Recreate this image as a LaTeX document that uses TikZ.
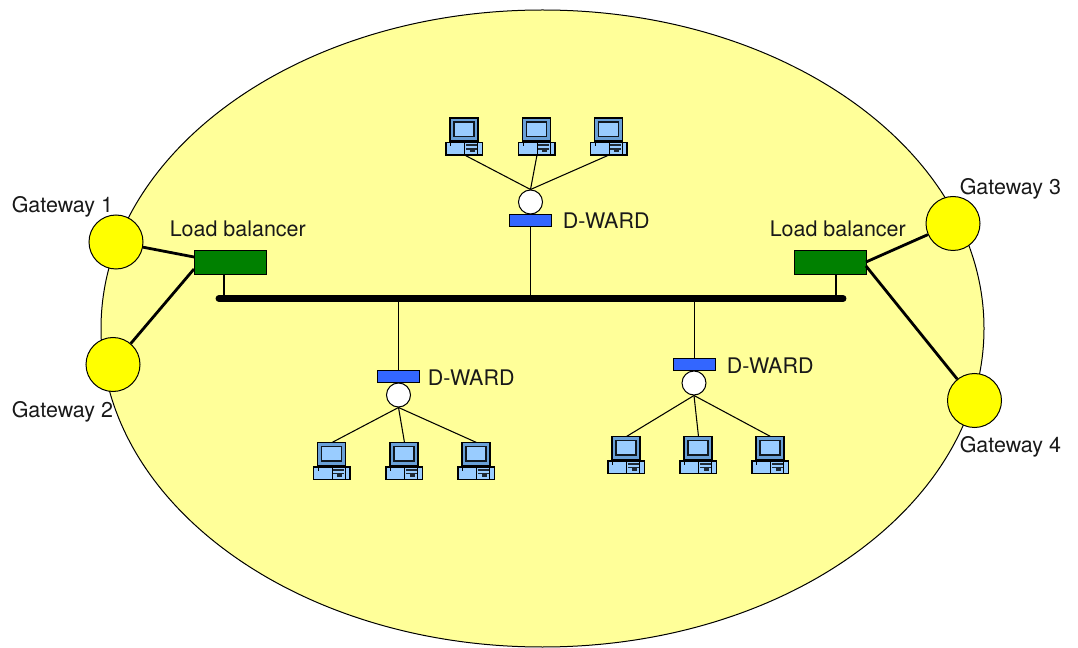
\documentclass[tikz,border=0pt]{standalone}
\usepackage{fontspec}
\setmainfont{TeX Gyre Heros}
\definecolor{bg}{RGB}{255,255,153}
\definecolor{gw}{RGB}{255,255,0}
\definecolor{lb}{RGB}{0,128,0}
\definecolor{dw}{RGB}{51,102,255}
\definecolor{pc}{RGB}{153,204,255}
\definecolor{bevel}{RGB}{105,160,215}
\tikzset{
 x=0.75pt,y=-0.75pt,
 gateway/.style={circle,draw,fill=gw,line width=0.75pt,minimum size=40.5pt,inner sep=0pt},
 balancer/.style={rectangle,draw,fill=lb,line width=0.6pt,minimum width=54pt,minimum height=18.4pt,inner sep=0pt},
 filter/.style={rectangle,draw,fill=dw,line width=0.75pt,minimum width=32pt,minimum height=9pt,inner sep=0pt},
 hub/.style={circle,draw,fill=white,line width=0.75pt,minimum size=18pt,inner sep=0pt},
 lab/.style={font=\fontsize{16.1pt}{17pt}\selectfont,text=black!90,inner sep=0pt},
 thick link/.style={line width=2.1pt},
 thin link/.style={line width=0.8pt},
 pc/.pic={
  % monitor
  \draw[fill=bevel,line width=0.9pt] (-14.5,-37) rectangle (13.5,-14);
  \draw[fill=pc,draw=black!85!bevel,line width=0.8pt] (-10.5,-33) rectangle (9.5,-18.5);
  \fill[black] (-12,-14) rectangle (11,-12.5);
  % base
  \draw[fill=pc,line width=0.9pt] (-18.5,-12.5) rectangle (18,0);
  \draw[line width=0.5pt] (-14,-12.5) -- (-14,-9);
  \draw[line width=0.5pt] (13,-12.5) -- (13,0);
  \draw[line width=0.6pt] (0,-12.5) -- (0,0);
  \fill[black!80!pc] (1,-10.5) rectangle (12,-8.8);
  \fill[black!80!pc] (1,-7) rectangle (12,-5.3);
  \fill[black!80!pc] (5,-5.3) rectangle (10,-2.5);
  \coordinate (-bot) at (0,0);
  \coordinate (-top) at (0,-37);
 }
}
\begin{document}
\begin{tikzpicture}
\useasboundingbox (0,0) rectangle (1078,648);
\draw[fill=bg,line width=0.75pt] (542.5,328.5) circle [x radius=441.5*0.75pt, y radius=318.5*0.75pt];
% bus
\coordinate (busL) at (219,298.5);
\coordinate (busR) at (843,298.5);
% gateways, balancers
\node[balancer] (lb1) at (230,262.5) {};
\node[balancer] (lb2) at (830,262.5) {};
\node[gateway] (g1) at (116,242) {};
\node[gateway] (g2) at (113,364.5) {};
\node[gateway] (g3) at (953,223.5) {};
\node[gateway] (g4) at (974.5,400.5) {};
\coordinate (s1) at (224,298.5);
\coordinate (s2) at (836,298.5);
\coordinate (s1t) at (224,275);
\coordinate (s2t) at (836,275);
\coordinate (l1) at (194,257);
\coordinate (l2) at (194,269);
\coordinate (r1) at (866,262);
\coordinate (r2) at (866,266);
\draw[thick link] (g1) -- (l1);
\draw[thick link] (g2) -- (l2);
\draw[thick link] (g3) -- (r1);
\draw[thick link] (g4) -- (r2);
\draw[thick link] (s1t) -- (s1);
\draw[thick link] (s2t) -- (s2);
\draw[line width=5.2pt,line cap=round] (busL) -- (busR);
% top group
\node[hub] (h1) at (530.5,202) {};
\node[filter] (f1) at (530.5,221) {};
\coordinate (b1) at (530.5,298.5);
\draw[thin link] (f1) -- (b1);
\pic (a1) at (464.5,155) {pc};
\pic (a2) at (537,155) {pc};
\pic (a3) at (609,155) {pc};
\foreach \n in {a1,a2,a3} \draw[thin link] (\n-bot) -- (h1.north);
% bottom left
\node[hub] (h2) at (398.5,395) {};
\node[filter] (f2) at (398.5,377) {};
\coordinate (b2) at (398.5,298.5);
\draw[thin link] (f2) -- (b2);
\pic (c1) at (332,479.5) {pc};
\pic (c2) at (404.5,479.5) {pc};
\pic (c3) at (476.5,479.5) {pc};
\foreach \n in {c1,c2,c3} \draw[thin link] (\n-top) -- (h2.south);
% bottom right
\node[hub] (h3) at (694,383) {};
\node[filter] (f3) at (694.4,365) {};
\coordinate (b3) at (694.4,298.5);
\draw[thin link] (f3) -- (b3);
\pic (d1) at (626.5,473.5) {pc};
\pic (d2) at (698.5,473.5) {pc};
\pic (d3) at (770.5,473.5) {pc};
\foreach \n in {d1,d2,d3} \draw[thin link] (\n-top) -- (h3.south);
% labels
\node[lab,anchor=base west] (t1) at (11.5,213) {Gateway 1};
\node[lab,anchor=base west] (t2) at (11.5,417.5) {Gateway 2};
\node[lab,anchor=base west] (t3) at (959.5,195) {Gateway 3};
\node[lab,anchor=base west] (t4) at (959.5,452) {Gateway 4};
\node[lab,anchor=base west] (t5) at (169.5,237) {Load balancer};
\node[lab,anchor=base west] (t6) at (769.5,237) {Load balancer};
\node[lab,anchor=base west] (t7) at (562.5,229) {D-WARD};
\node[lab,anchor=base west] (t8) at (427.5,386) {D-WARD};
\node[lab,anchor=base west] (t9) at (726.5,374) {D-WARD};
\end{tikzpicture}
\end{document}
